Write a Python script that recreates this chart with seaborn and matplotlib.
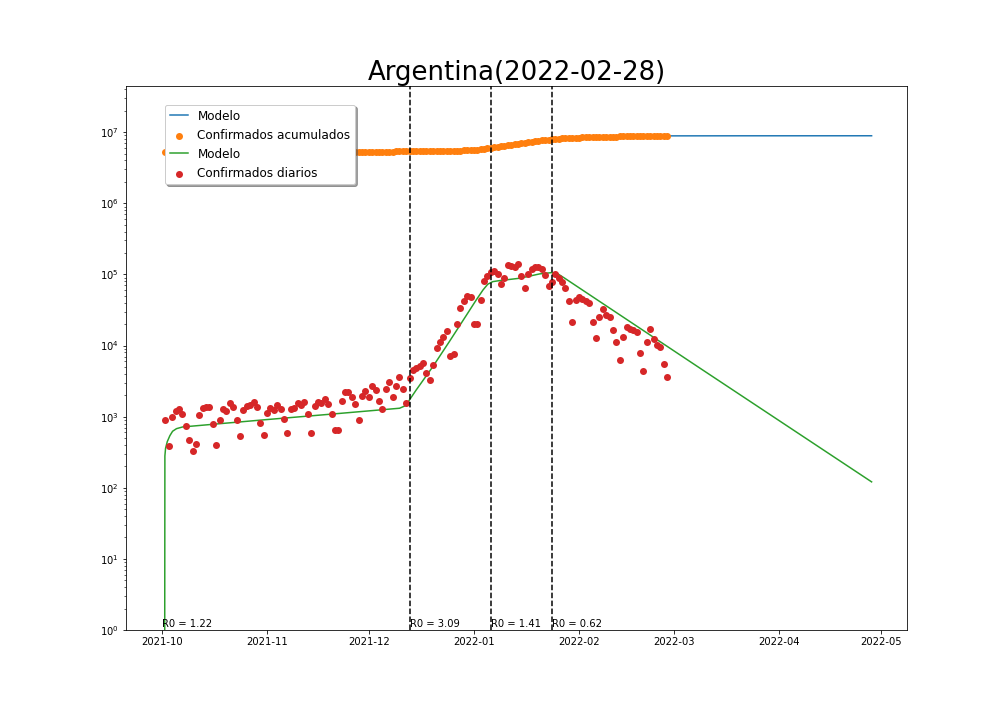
import matplotlib
matplotlib.use("Agg")
import pandas as pd
import seaborn as sns
from matplotlib import pyplot as plt

# start of the x axis data, offsets below are days from this date
start_date = pd.Timestamp("2021-10-01")
first_report = "2021-10-01 22:00"

daily_cases = [
    889, 383, 980, 1190, 1270, 1080, 732, 465, 326, 409,
    1045, 1312, 1355, 1355, 781, 396, 889, 1270, 1190, 1542,
    1355, 889, 530, 1230, 1415, 1445, 1592, 1355, 807, 547,
    1115, 1312, 1230, 1445, 1270, 918, 583, 1270, 1312, 1542,
    1445, 1592, 1080, 583, 1400, 1592, 1542, 1754, 1493, 1080,
    643, 643, 1644, 2203, 2203, 1871, 1493, 889, 1932, 2275,
    1871, 2673, 2350, 1644, 1270, 2427, 3042, 1871, 2673, 3580,
    2427, 1542, 3467, 4487, 4842, 5220, 5630, 4074, 3248, 5280,
    9150, 11120, 13060, 15880, 7060, 7530, 19920, 33420, 41970, 49320,
    47750, 19920, 19920, 43330, 80200, 94200, 107200, 110900, 100500, 72800,
    88300, 134500, 131700, 126100, 139000, 94200, 63900, 100500, 118300, 126100,
    126100, 118300, 97300, 68200, 77600, 100500, 88300, 77600, 63900, 41970,
    21240, 43330, 47750, 44770, 41970, 39300, 21240, 12650, 25000, 32360,
    26670, 25000, 16400, 11120, 6210, 13060, 18070, 16940, 16400, 15380,
    7780, 4345, 11120, 16940, 12250, 10090, 9460, 5460, 3580,
]

# cumulative confirmed, in thousands
cumulative_k = [
    5258, 5258, 5259, 5260, 5262, 5263, 5263, 5264, 5264, 5265,
    5266, 5267, 5268, 5270, 5270, 5271, 5272, 5273, 5274, 5276,
    5277, 5278, 5278, 5280, 5281, 5282, 5284, 5285, 5286, 5287,
    5288, 5289, 5290, 5292, 5293, 5294, 5295, 5296, 5297, 5299,
    5300, 5302, 5303, 5303, 5305, 5306, 5308, 5310, 5311, 5312,
    5313, 5314, 5315, 5318, 5320, 5322, 5323, 5324, 5326, 5328,
    5330, 5333, 5335, 5337, 5338, 5341, 5344, 5346, 5348, 5352,
    5354, 5356, 5359, 5364, 5368, 5374, 5379, 5383, 5387, 5392,
    5401, 5412, 5425, 5441, 5448, 5456, 5476, 5509, 5551, 5600,
    5648, 5668, 5688, 5731, 5811, 5905, 6012, 6123, 6224, 6297,
    6385, 6519, 6651, 6777, 6916, 7010, 7074, 7175, 7293, 7419,
    7545, 7663, 7760, 7829, 7906, 8007, 8095, 8173, 8237, 8279,
    8300, 8343, 8391, 8436, 8478, 8517, 8538, 8551, 8576, 8608,
    8635, 8660, 8676, 8687, 8694, 8707, 8725, 8742, 8758, 8773,
    8781, 8785, 8796, 8813, 8826, 8836, 8845, 8851, 8854,
]

model_cum_days = [0.77, 73, 91, 115, 130, 149, 170, 209.2]
model_cum_values = [5.258e6, 5.36e6, 5.668e6, 7.906e6, 8.58e6, 8.87e6, 8.89e6, 8.9e6]

model_daily_days = [
    0.72, 0.77, 0.97, 1.47, 2.24, 3.04, 4.2, 6, 29.6, 49.4,
    70, 72, 72.9, 74.9, 79.8, 84.8, 89.7, 92.6, 94.6, 96,
    97.5, 99.5, 105.4, 111.3, 114.8, 116.7, 118.7, 158.6, 209.2,
]
model_daily_values = [
    1, 280, 359, 445, 540, 623, 678, 716, 899, 1080,
    1313, 1445, 1718, 2375, 5050, 11610, 26690, 43780, 60500, 72800,
    79200, 81800, 88300, 101600, 105900, 101600, 88300, 4797, 121,
]

r0_days = [0, 73, 97, 115]
r0_values = ["1.22", "3.09", "1.41", "0.62"]


def to_dates(days):
    return start_date + pd.to_timedelta(days, unit="D")


report_dates = pd.date_range(first_report, periods=len(daily_cases), freq="D")
cumulative = [v * 1000 for v in cumulative_k]

fig, ax = plt.subplots(figsize=(14, 10), dpi=72)
fig.subplots_adjust(bottom=0.125)

sns.lineplot(x=to_dates(model_cum_days), y=model_cum_values, color="C0",
             estimator=None, sort=False, label="Modelo", ax=ax)
sns.scatterplot(x=report_dates, y=cumulative, color="C1", s=49, linewidth=0,
                zorder=3, label="Confirmados acumulados", ax=ax)
sns.lineplot(x=to_dates(model_daily_days), y=model_daily_values, color="C2",
             estimator=None, sort=False, label="Modelo", ax=ax)
sns.scatterplot(x=report_dates, y=daily_cases, color="C3", s=49, linewidth=0,
                zorder=3, label="Confirmados diarios", ax=ax)

ax.set_yscale("log")
ax.set_ylim(1, 4.4e7)
ax.set_xlim(to_dates(-10.7), to_dates(219.7))
ax.set_xlabel("")

# the first R0 has no change line, only the label
for i, (day, r0) in enumerate(zip(r0_days, r0_values)):
    if i > 0:
        ax.axvline(to_dates(day), color="black", linestyle="--", linewidth=1.5, zorder=4)
    ax.text(to_dates(day), 1.1, f"R0 = {r0}", fontsize=10, zorder=5)

ax.set_title("Argentina(2022-02-28)", fontsize=26)
ax.legend(loc="upper left", bbox_to_anchor=(0.05, 0.966), borderaxespad=0,
          fontsize=12, shadow=True, handlelength=1.5)

plt.savefig("out.png", dpi=72)
plt.close(fig)
